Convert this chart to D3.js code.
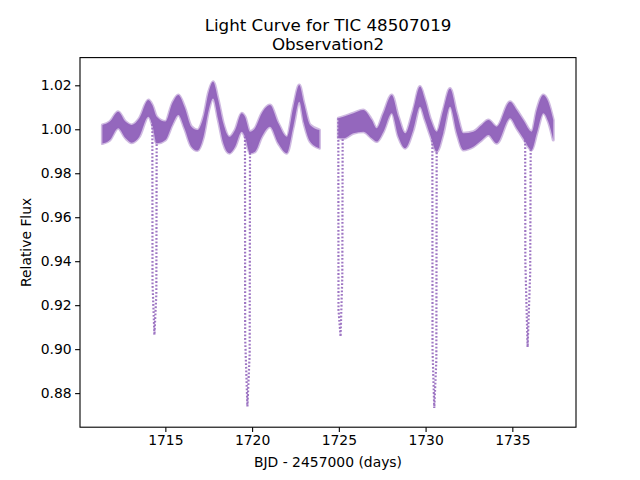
<!DOCTYPE html>
<html>
<head>
  <title>light curve</title>
  <script src="https://d3js.org/d3.v7.min.js"></script>
  <style>
    body { margin: 0; background: #fff; }
    text { font-family: "DejaVu Sans", sans-serif; fill: #000; }
  </style>
</head>
<body>
  <svg width="640" height="480" id="mainsvg"></svg>
  <script>
    // envelope of the dense band of points
    // (null marks the gap in the observation)
    const bandTime = [1711.37, 1711.80, 1712.28, 1712.70, 1713.06, 1713.50, 1714.02, 1714.25,
      1714.50, 1715.00, 1715.40, 1715.75, 1716.10, 1716.50, 1716.85, 1717.20, 1717.50, 1717.75,
      1718.05, 1718.34, 1718.69, 1719.02, 1719.40, 1719.59, 1719.88, 1720.17, 1720.56, 1721.03,
      1721.51, 1722.00, 1722.38, 1722.72, 1722.99, 1723.34, 1723.88,
      null,
      1724.97, 1725.26, 1725.84, 1726.41, 1726.90, 1727.18, 1727.57, 1728.05, 1728.43, 1728.82,
      1729.29, 1729.68, 1729.97, 1730.30, 1730.64, 1731.02, 1731.41, 1731.80, 1732.18, 1732.75,
      1733.24, 1733.62, 1734.10, 1734.87, 1735.25, 1735.63, 1736.12, 1736.41, 1736.79, 1737.07,
      1737.36];
    const bandHigh = [1.0020, 1.0035, 1.0080, 1.0035, 1.0020, 1.0050, 1.0133, 1.0110,
      1.0057, 1.0035, 1.0118, 1.0156, 1.0103, 1.0012, 0.9997, 1.0057, 1.0171, 1.0216,
      1.0133, 1.0027, 0.9966, 0.9997, 1.0073, 1.0057, 0.9989, 1.0005, 1.0073, 1.0110,
      1.0027, 0.9966, 1.0103, 1.0201, 1.0118, 1.0020, 0.9997,
      null,
      1.0050, 1.0057, 1.0073, 1.0088, 1.0042, 1.0005, 1.0073, 1.0156, 1.0057, 0.9982,
      1.0088, 1.0194, 1.0133, 1.0042, 0.9989, 1.0088, 1.0186, 1.0073, 0.9982, 0.9989,
      1.0020, 1.0042, 1.0012, 1.0125, 1.0088, 1.0042, 0.9989, 1.0088, 1.0156, 1.0125,
      1.0042];
    const bandLow = [0.9935, 0.9951, 1.0005, 0.9960, 0.9939, 0.9966, 1.0057, 1.0020,
      0.9936, 0.9951, 1.0020, 1.0065, 1.0005, 0.9921, 0.9903, 0.9966, 1.0088, 1.0140,
      1.0042, 0.9936, 0.9891, 0.9921, 0.9989, 0.9966, 0.9891, 0.9898, 0.9966, 1.0012,
      0.9936, 0.9891, 1.0012, 1.0125, 1.0027, 0.9944, 0.9914,
      null,
      0.9960, 0.9959, 0.9982, 0.9989, 0.9959, 0.9944, 0.9989, 1.0073, 0.9966, 0.9914,
      0.9997, 1.0103, 1.0042, 0.9966, 0.9898, 0.9982, 1.0103, 0.9982, 0.9906, 0.9921,
      0.9951, 0.9974, 0.9936, 1.0050, 1.0005, 0.9959, 0.9906, 0.9982, 1.0073, 1.0035,
      0.9951];

    // eclipses: ingress column (top, knee), minimum, egress column (knee, top)
    const dipStart = [1714.25, 1719.59, 1724.97, 1730.39, 1735.74];
    const dipTopIn = [1.0040, 1.0000, 1.0050, 1.0000, 1.0000];
    const dipKneeInT = [1714.26, 1719.60, 1724.98, 1730.40, 1735.75];
    const dipKneeInF = [0.930, 0.905, 0.918, 0.900, 0.940];
    const dipMid = [1714.37, 1719.73, 1725.10, 1730.50, 1735.88];
    const dipMin = [0.9065, 0.8739, 0.9057, 0.8732, 0.9009];
    const dipKneeOutT = [1714.48, 1719.86, 1725.20, 1730.62, 1736.03];
    const dipKneeOutF = [0.925, 0.898, 0.933, 0.895, 0.935];
    const dipEnd = [1714.50, 1719.88, 1725.22, 1730.64, 1736.06];
    const dipTopOut = [0.9990, 0.9950, 0.9990, 0.9950, 0.9960];

    const xTicks = [1715, 1720, 1725, 1730, 1735];
    const yTicks = [0.88, 0.90, 0.92, 0.94, 0.96, 0.98, 1.00, 1.02];

    const color = '#9467bd';
    let svg = d3.select('#mainsvg');
    const mLeft = 80, mRight = 576, mTop = 57.6, mBottom = 427.2;

    const x = d3.scaleLinear().domain([1710.08, 1738.67]).range([mLeft, mRight]);
    const y = d3.scaleLinear().domain([0.8645, 1.0326]).range([mBottom, mTop]);

    svg.append('rect').attr('width', 640).attr('height', 480).attr('fill', '#fff');

    // band: a soft halo for the scattered edge points, then the dense core
    const band = bandTime.map((t, i) => ({t: t, hi: bandHigh[i], lo: bandLow[i]}));
    const area = d3.area()
      .defined(d => d.t != null)
      .curve(d3.curveMonotoneX)
      .x(d => x(d.t))
      .y0(d => y(d.lo))
      .y1(d => y(d.hi));
    svg.append('path')
      .datum(band)
      .attr('d', area)
      .attr('fill', color)
      .attr('stroke', color)
      .attr('stroke-width', 3)
      .attr('stroke-linejoin', 'round')
      .attr('stroke-opacity', 0.45);

    // eclipse columns
    const dips = dipMid.map((m, i) => [
      [dipStart[i], dipTopIn[i]], [dipKneeInT[i], dipKneeInF[i]], [m, dipMin[i]],
      [dipKneeOutT[i], dipKneeOutF[i]], [dipEnd[i], dipTopOut[i]]
    ]);
    const line = d3.line().x(d => x(d[0])).y(d => y(d[1]));
    svg.selectAll('.dip').data(dips)
      .enter().append('path')
      .attr('class', 'dip')
      .attr('d', line)
      .attr('fill', 'none')
      .attr('stroke', color)
      .attr('stroke-width', 2.2)
      .attr('stroke-opacity', 0.9)
      .attr('stroke-dasharray', '1.8,1.8');

    // axes
    const xAxis = d3.axisBottom(x).tickValues(xTicks).tickSize(4.9).tickPadding(3.5).tickFormat(d3.format('d'));
    const yAxis = d3.axisLeft(y).tickValues(yTicks).tickSize(4.9).tickPadding(3.5).tickFormat(d3.format('.2f'));
    const gx = svg.append('g').attr('transform', `translate(0,${mBottom})`).call(xAxis);
    const gy = svg.append('g').attr('transform', `translate(${mLeft},0)`).call(yAxis);
    [gx, gy].forEach(g => {
      g.select('.domain').remove();
      g.selectAll('line').attr('stroke', '#000').attr('stroke-width', 1.1);
      g.selectAll('text').attr('font-size', 13.9).attr('font-family', 'DejaVu Sans').attr('fill', '#000');
    });

    svg.append('rect')
      .attr('x', mLeft).attr('y', mTop)
      .attr('width', mRight - mLeft).attr('height', mBottom - mTop)
      .attr('fill', 'none').attr('stroke', '#000').attr('stroke-width', 1.1);

    // titles and labels
    svg.append('text').attr('x', 328).attr('y', 31).attr('text-anchor', 'middle')
      .attr('font-size', 16.7).text('Light Curve for TIC 48507019');
    svg.append('text').attr('x', 328).attr('y', 50).attr('text-anchor', 'middle')
      .attr('font-size', 16.7).text('Observation2');
    svg.append('text').attr('x', 328).attr('y', 467).attr('text-anchor', 'middle')
      .attr('font-size', 13.9).text('BJD - 2457000 (days)');
    svg.append('text').attr('transform', 'translate(31,242.4) rotate(-90)')
      .attr('text-anchor', 'middle').attr('font-size', 13.9).text('Relative Flux');
  </script>
</body>
</html>
